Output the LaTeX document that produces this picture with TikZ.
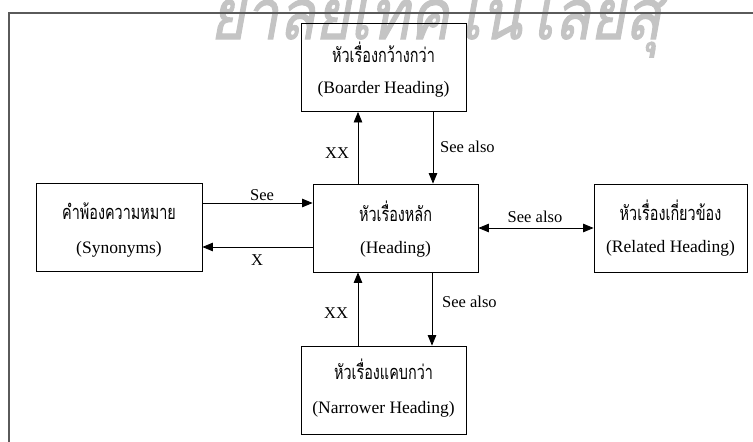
\documentclass[tikz,border=0pt]{standalone}
\usepackage{fontspec}
\setmainfont{Liberation Serif}
\newfontfamily\thaifont[Script=Thai,FakeStretch=0.72]{Loma}
\newfontfamily\wmfont[Script=Thai,FakeSlant=0.18,FakeBold=1.5,FakeStretch=0.85]{Loma}
\usetikzlibrary{arrows.meta,calc}
\definecolor{framegray}{HTML}{5A5A5A}
\definecolor{wmgray}{HTML}{C4C4C4}

\begin{document}
\begin{tikzpicture}[x=1pt,y=-1pt,
  box/.style={draw=black,line width=0.8pt,minimum width=#1,minimum height=88pt,inner sep=0pt},
  thaitext/.style={font=\thaifont\fontsize{20}{22}\selectfont,inner sep=0pt},
  engtext/.style={font=\fontsize{17.5}{20}\selectfont,inner sep=0pt},
  lbl/.style={font=\fontsize{16.5}{18}\selectfont,inner sep=0pt},
  arr/.style={line width=0.8pt,-{Triangle[length=10.5pt,width=8.5pt]}},
  darr/.style={line width=0.8pt,{Triangle[length=10.5pt,width=8.5pt]}-{Triangle[length=10.5pt,width=8.5pt]}}]

\useasboundingbox (0,0) rectangle (753,442);

% faint watermark along the top edge, cut off by the page
\begin{scope}
  \clip (0,0) rectangle (753,442);
  \node[name=wm,text=wmgray,font=\wmfont\fontsize{70}{74}\selectfont,anchor=base west,
        inner sep=0pt,text depth=0pt]
    at (210,39) {ยาลัยเทคโนโลยีสุ};
\end{scope}

% page frame
\draw[framegray,line width=1.2pt] (9,442) -- (9,13) -- (753,13);

% boxes
\node[box=165pt] (B) at (383.5,67.5) {};
\node[box=165pt] (H) at (395.5,228) {};
\node[box=166pt] (S) at (119,227.5) {};
\node[box=153pt] (R) at (670.5,228) {};
\node[box=165pt] (N) at (383.5,390) {};

% box texts
\node[thaitext] (Bt) at ($(B.north)+(0,29)$) {หัวเรื่องกว้างกว่า};
\node[engtext]  (Be) at ($(B.north)+(0,66)$) {(Boarder Heading)};
\node[thaitext] (Ht) at ($(H.north)+(0,28)$) {หัวเรื่องหลัก};
\node[engtext]  (He) at ($(H.north)+(0,66)$) {(Heading)};
\node[thaitext] (St) at ($(S.north)+(0,28)$) {คำพ้องความหมาย};
\node[engtext]  (Se) at ($(S.north)+(0,66)$) {(Synonyms)};
\node[thaitext] (Rt) at ($(R.north)+(0,27)$) {หัวเรื่องเกี่ยวข้อง};
\node[engtext]  (Re) at ($(R.north)+(0,65)$) {(Related Heading)};
\node[thaitext] (Nt) at ($(N.north)+(0,24)$) {หัวเรื่องแคบกว่า};
\node[engtext]  (Ne) at ($(N.north)+(0,64)$) {(Narrower Heading)};

% connectors
\draw[arr]  (S.east |- 0,203) -- (H.west |- 0,203);
\draw[arr]  (H.west |- 0,247) -- (S.east |- 0,247);
\draw[darr] (H.east) -- (R.west);
\draw[arr]  (H.north -| 358,0) -- (B.south -| 358,0);
\draw[arr]  (B.south -| 433,0) -- (H.north -| 433,0);
\draw[arr]  (N.north -| 358,0) -- (H.south -| 358,0);
\draw[arr]  (H.south -| 432,0) -- (N.north -| 432,0);

% connector labels
\node[lbl] (l1) at (262,195) {See};
\node[lbl] (l2) at (257,260) {X};
\node[lbl] (l3) at (535,217) {See also};
\node[lbl] (l4) at (337,153) {XX};
\node[lbl,anchor=west] (l5) at (440,147) {See also};
\node[lbl] (l6) at (336,313) {XX};
\node[lbl,anchor=west] (l7) at (442,302) {See also};
\end{tikzpicture}
\end{document}
